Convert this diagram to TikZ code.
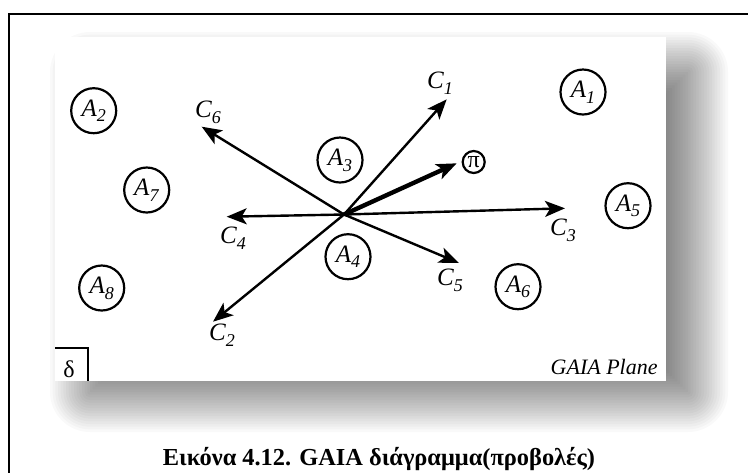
\documentclass[tikz,border=0pt]{standalone}
\usepackage{fontspec}
\setmainfont{Liberation Serif}
\usetikzlibrary{arrows.meta}
\usetikzlibrary{positioning}

\newcommand{\sublab}[2]{\textit{#1}\raisebox{-0.5ex}{\fontsize{9}{10}\selectfont\textit{#2}}}

\begin{document}
\begin{tikzpicture}[x=0.5pt,y=-0.5pt,
  alt/.style={circle, draw, line width=1.1pt, minimum size=22.5pt, inner sep=0pt, font=\fontsize{12.5}{14}\selectfont},
  crit/.style={line width=1.2pt, -{Stealth[length=10pt,width=8pt,inset=2.5pt]}},
  clab/.style={inner sep=0pt, font=\fontsize{12.5}{14}\selectfont}]
    \useasboundingbox (0,0) rectangle (748,473);
    \fill[white] (0,0) rectangle (748,473);
    % outer frame, only top and left show
    \coordinate (ftr) at (748,13.5); \coordinate (ftl) at (9,13.5); \coordinate (fbl) at (9,473);
    \draw[line width=1pt] (ftr) -- (ftl) -- (fbl);
    % blurred shadow of the plane
    \def \blur {40} \def \steps {30}
    \foreach \i in {0,...,\steps} {
    \pgfmathsetmacro{\e}{\blur-2*\blur*\i/\steps}
    \pgfmathsetmacro{\rc}{max(\e,0.5)*0.5}
    \fill[black, opacity=0.025, rounded corners=\rc pt] ({90-(\e)},{72-(\e)}) rectangle ({688+(\e)},{392+(\e)});
    }
    \coordinate (itl) at (55,37); \coordinate (ibr) at (666,381);
    \fill[white] (itl) rectangle (ibr);

    % alternatives
    \node[alt] (a1) at (583,92) {\sublab{A}{1}};
    \node[alt] (a2) at (93.7,110.7) {\sublab{A}{2}};
    \node[alt] (a3) at (340,160) {\sublab{A}{3}};
    \node[alt] (a4) at (348,256.7) {\sublab{A}{4}};
    \node[alt] (a5) at (628,205.7) {\sublab{A}{5}};
    \node[alt] (a6) at (518,286.7) {\sublab{A}{6}};
    \node[alt] (a7) at (146.7,190) {\sublab{A}{7}};
    \node[alt] (a8) at (101.7,288) {\sublab{A}{8}};
    \node[circle, draw, line width=1.1pt, minimum size=11pt, inner sep=0pt, font=\fontsize{12}{14}\selectfont] (pi) at (473.7,162) {π};

    % criteria axes
    \coordinate (o) at (344,214.5);
    \coordinate (t1) at (446.7,99.3);
    \coordinate (t2) at (213,321.7);
    \coordinate (t3) at (565,208.3);
    \coordinate (t4) at (226.7,216.7);
    \coordinate (t5) at (459,263);
    \coordinate (t6) at (201.7,126.7);
    \coordinate (tp) at (456.7,163.3);
    \foreach \k in {1,...,6} \draw[crit] (o) -- (t\k);
    \draw[line width=2.2pt, -{Stealth[length=10pt,width=8pt,inset=2.5pt]}] (o) -- (tp);

    \node[clab] (c1) at (440,83) {\sublab{C}{1}};
    \node[clab] (c2) at (222,335) {\sublab{C}{2}};
    \node[clab] (c3) at (563,230) {\sublab{C}{3}};
    \node[clab] (c4) at (233,238) {\sublab{C}{4}};
    \node[clab] (c5) at (450,280) {\sublab{C}{5}};
    \node[clab] (c6) at (208,112) {\sublab{C}{6}};

    % delta box and plane name
    \coordinate (dtl) at (55,348); \coordinate (dbr) at (88,381);
    \draw[line width=1pt] (dtl) -| (dbr);
    \node[font=\fontsize{12}{14}\selectfont] (delta) at (69,369) {δ};
    \node[anchor=east, inner sep=0pt, font=\itshape\fontsize{11}{13}\selectfont] (gaia) at (658,366.7) {GAIA Plane};

    \node[font=\bfseries\fontsize{12.2}{15}\selectfont] (cap) at (379,459) {Εικόνα 4.12. GAIA διάγραμμα(προβολές)};
\end{tikzpicture}
\end{document}
